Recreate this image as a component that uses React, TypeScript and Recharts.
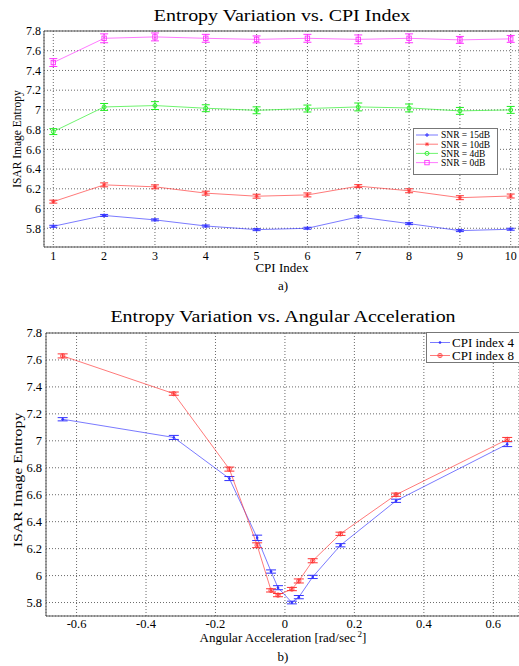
import React from "react";
import { LineChart, Line, XAxis, YAxis, CartesianGrid, ErrorBar, ReferenceLine } from "recharts";

const FONT = "'Liberation Serif', 'Times New Roman', serif";

// ---- Chart a) Entropy vs CPI index ----
const cpiIndex = [1, 2, 3, 4, 5, 6, 7, 8, 9, 10];
const snr15 = [5.82, 5.93, 5.885, 5.823, 5.786, 5.8, 5.915, 5.847, 5.776, 5.79];
const snr10 = [6.07, 6.24, 6.22, 6.156, 6.125, 6.138, 6.227, 6.18, 6.11, 6.127];
const snr4 = [6.78, 7.03, 7.044, 7.017, 6.996, 7.014, 7.03, 7.02, 6.99, 7.0];
const snr0 = [7.48, 7.726, 7.74, 7.726, 7.715, 7.726, 7.715, 7.726, 7.71, 7.72];
const err15 = [0.01, 0.01, 0.01, 0.01, 0.01, 0.01, 0.01, 0.01, 0.01, 0.01];
const err10 = [0.015, 0.02, 0.02, 0.02, 0.02, 0.02, 0.015, 0.02, 0.02, 0.02];
const err4 = [0.03, 0.035, 0.04, 0.035, 0.035, 0.035, 0.04, 0.04, 0.035, 0.035];
const err0 = [0.04, 0.045, 0.04, 0.04, 0.035, 0.04, 0.045, 0.045, 0.035, 0.035];
const cpiTicks = [1, 2, 3, 4, 5, 6, 7, 8, 9, 10];
const entropyTicks = [5.8, 6, 6.2, 6.4, 6.6, 6.8, 7, 7.2, 7.4, 7.6, 7.8];
const snrLabels = ["SNR = 15dB", "SNR = 10dB", "SNR = 4dB", "SNR = 0dB"];

// ---- Chart b) Entropy vs angular acceleration ----
const accel = [-0.64, -0.32, -0.16, -0.08, -0.04, -0.02, 0.02, 0.04, 0.08, 0.16, 0.32, 0.64];
const cpi4 = [7.16, 7.025, 6.72, 6.28, 6.03, 5.91, 5.8, 5.84, 5.99, 6.225, 6.555, 6.975];
const cpi8 = [7.63, 7.35, 6.79, 6.225, 5.89, 5.855, 5.9, 5.96, 6.11, 6.31, 6.6, 7.01];
const errCpi4 = [0.012, 0.015, 0.015, 0.02, 0.012, 0.015, 0.01, 0.012, 0.012, 0.012, 0.012, 0.018];
const errCpi8 = [0.015, 0.012, 0.015, 0.018, 0.012, 0.012, 0.012, 0.015, 0.015, 0.012, 0.012, 0.015];
const accelTicks = [-0.6, -0.4, -0.2, 0, 0.2, 0.4, 0.6];
const cpiLabels = ["CPI index 4", "CPI index 8"];

const topData = cpiIndex.map((c, i) => ({
  cpi: c,
  s15: snr15[i], e15: err15[i],
  s10: snr10[i], e10: err10[i],
  s4: snr4[i], e4: err4[i],
  s0: snr0[i], e0: err0[i],
}));

const bottomData = accel.map((a, i) => ({
  acc: a,
  c4: cpi4[i], ec4: errCpi4[i],
  c8: cpi8[i], ec8: errCpi8[i],
}));

const BLUE = "#3333ff";
const RED = "#ff3333";
const GREEN = "#22ee22";
const PINK = "#ff33ff";
const AXIS = "#555";

type Shape = "plus" | "star" | "circle" | "square" | "dot" | "ostar";

function markerEl(shape: Shape, x: number, y: number, color: string, key?: string) {
  switch (shape) {
    case "plus":
      return <path key={key} d={`M${x - 2},${y}h4M${x},${y - 2}v4`} stroke={color} strokeWidth={1} fill="none" />;
    case "star":
      return (
        <path key={key} d={`M${x - 2},${y}h4M${x},${y - 2}v4M${x - 1.5},${y - 1.5}l3,3M${x - 1.5},${y + 1.5}l3,-3`} stroke={color} strokeWidth={0.8} fill="none" />
      );
    case "circle":
      return <circle key={key} cx={x} cy={y} r={2} stroke={color} strokeWidth={0.9} fill="none" />;
    case "square":
      return <rect key={key} x={x - 2.2} y={y - 2.2} width={4.4} height={4.4} stroke={color} strokeWidth={0.9} fill="none" />;
    case "dot":
      return <circle key={key} cx={x} cy={y} r={1.3} fill={color} />;
    case "ostar":
      return (
        <g key={key}>
          <circle cx={x} cy={y} r={2.2} stroke={color} strokeWidth={0.8} fill="none" />
          <path d={`M${x - 1.5},${y}h3M${x},${y - 1.5}v3`} stroke={color} strokeWidth={0.7} />
        </g>
      );
  }
}

const dotRenderer = (shape: Shape, color: string) => (p: any) => {
  if (p.cx == null || p.cy == null) return <g key={`k${p.index}`} />;
  return markerEl(shape, p.cx, p.cy, color, `m${p.index}`);
};

const tickStyle = { fill: "#000", fontSize: 12, fontFamily: FONT };

export default function App() {
  const topSeries = [
    { key: "s15", err: "e15", color: BLUE, shape: "plus" as Shape },
    { key: "s10", err: "e10", color: RED, shape: "star" as Shape },
    { key: "s4", err: "e4", color: GREEN, shape: "circle" as Shape },
    { key: "s0", err: "e0", color: PINK, shape: "square" as Shape },
  ];
  const bottomSeries = [
    { key: "c4", err: "ec4", color: BLUE, shape: "dot" as Shape },
    { key: "c8", err: "ec8", color: RED, shape: "ostar" as Shape },
  ];

  return (
    <div style={{ position: "relative", width: 519, height: 666, background: "#fff", overflow: "hidden" }}>
      <style>{"html,body{margin:0;padding:0;overflow:hidden;}"}</style>
      <div style={{ position: "absolute", left: 0, top: 0 }}>
        <LineChart width={519} height={300} data={topData} margin={{ top: 31, right: 0, bottom: 33, left: 0 }}>
          <CartesianGrid stroke="#444" strokeDasharray="1 2" strokeWidth={0.8} />
          <XAxis
            dataKey="cpi"
            type="number"
            domain={[0.817, 10.163]}
            ticks={cpiTicks}
            interval={0}
            allowDataOverflow
            height={20}
            tickLine={false}
            tickSize={4}
            tickMargin={0}
            axisLine={{ stroke: AXIS }}
            tick={tickStyle}
          />
          <YAxis
            type="number"
            domain={[5.61, 7.8]}
            ticks={entropyTicks}
            interval={0}
            allowDataOverflow
            width={44}
            tickLine={false}
            tickSize={2}
            tickMargin={1}
            axisLine={{ stroke: AXIS }}
            tick={tickStyle}
          />
          <ReferenceLine y={7.8} stroke={AXIS} strokeWidth={1} />
          {topSeries.map((s) => (
            <Line
              key={s.key}
              dataKey={s.key}
              type="linear"
              stroke={s.color}
              strokeOpacity={0.65}
              strokeWidth={1}
              dot={dotRenderer(s.shape, s.color)}
              activeDot={false}
              isAnimationActive={false}
            >
              <ErrorBar dataKey={s.err} width={4} stroke={s.color} strokeWidth={1} direction="y" />
            </Line>
          ))}
        </LineChart>
      </div>

      <div style={{ position: "absolute", left: 0, top: 300 }}>
        <LineChart width={519} height={366} data={bottomData} margin={{ top: 33, right: 0, bottom: 30, left: 0 }}>
          <CartesianGrid stroke="#444" strokeDasharray="1 2" strokeWidth={0.8} />
          <XAxis
            dataKey="acc"
            type="number"
            domain={[-0.688, 0.674]}
            ticks={accelTicks}
            interval={0}
            allowDataOverflow
            height={20}
            tickLine={false}
            tickSize={3}
            tickMargin={0}
            axisLine={{ stroke: AXIS }}
            tick={{ ...tickStyle, fontSize: 12.5 }}
          />
          <YAxis
            type="number"
            domain={[5.7, 7.8]}
            ticks={entropyTicks}
            interval={0}
            allowDataOverflow
            width={46}
            tickLine={false}
            tickSize={3}
            tickMargin={1}
            axisLine={{ stroke: AXIS }}
            tick={{ ...tickStyle, fontSize: 12.5 }}
          />
          <ReferenceLine y={7.8} stroke={AXIS} strokeWidth={1} />
          {bottomSeries.map((s) => (
            <Line
              key={s.key}
              dataKey={s.key}
              type="linear"
              stroke={s.color}
              strokeOpacity={0.65}
              strokeWidth={1}
              dot={dotRenderer(s.shape, s.color)}
              activeDot={false}
              isAnimationActive={false}
            >
              <ErrorBar dataKey={s.err} width={5} stroke={s.color} strokeWidth={1} direction="y" />
            </Line>
          ))}
        </LineChart>
      </div>

      <svg width={519} height={666} style={{ position: "absolute", left: 0, top: 0, pointerEvents: "none" }} fontFamily={FONT}>
        {/* titles */}
        <g transform="translate(282,21) scale(1,0.82)">
          <text x={0} y={0} textAnchor="middle" fontSize={20} fill="#000">Entropy Variation vs. CPI Index</text>
        </g>
        <g transform="translate(283,322) scale(1,0.82)">
          <text x={0} y={0} textAnchor="middle" fontSize={20} fill="#000">Entropy Variation vs. Angular Acceleration</text>
        </g>
        {/* axis labels */}
        <text x={282} y={272} textAnchor="middle" fontSize={13} fill="#000">CPI Index</text>
        <text x={283} y={290} textAnchor="middle" fontSize={13} fill="#000">a)</text>
        <text x={283} y={642} textAnchor="middle" fontSize={13} fill="#000">
          Angular Acceleration [rad/sec
          <tspan fontSize={9} dy={-5} dx={2}>2</tspan>
          <tspan dy={5}>]</tspan>
        </text>
        <text x={283} y={661} textAnchor="middle" fontSize={13} fill="#000">b)</text>
        <g transform="translate(21,139) rotate(-90)">
          <text x={0} y={0} textAnchor="middle" fontSize={11.5} fill="#000">ISAR Image Entropy</text>
        </g>
        <g transform="translate(22,480) rotate(-90) scale(1.38,1)">
          <text x={0} y={0} textAnchor="middle" fontSize={11.5} fill="#000">ISAR Image Entropy</text>
        </g>

        {/* legend a */}
        <rect x={413.5} y={128.5} width={84} height={46} fill="#fff" stroke="#777" strokeWidth={1} />
        {topSeries.map((s, i) => {
          const y = 135 + i * 9.2;
          return (
            <g key={s.key}>
              <line x1={416} y1={y} x2={438} y2={y} stroke={s.color} strokeOpacity={0.65} strokeWidth={1} />
              {markerEl(s.shape, 427, y, s.color)}
              <text x={441} y={y + 3.3} fontSize={9.5} fill="#000">{snrLabels[i]}</text>
            </g>
          );
        })}

        {/* legend b */}
        <rect x={426.5} y={332.5} width={95} height={30} fill="#fff" stroke="#777" strokeWidth={1} />
        {bottomSeries.map((s, i) => {
          const y = 342.5 + i * 13;
          return (
            <g key={s.key}>
              <line x1={430} y1={y} x2={450} y2={y} stroke={s.color} strokeOpacity={0.65} strokeWidth={1} />
              {markerEl(s.shape, 440, y, s.color)}
              <text x={452} y={y + 4.5} fontSize={13} fill="#000">{cpiLabels[i]}</text>
            </g>
          );
        })}
      </svg>
    </div>
  );
}
